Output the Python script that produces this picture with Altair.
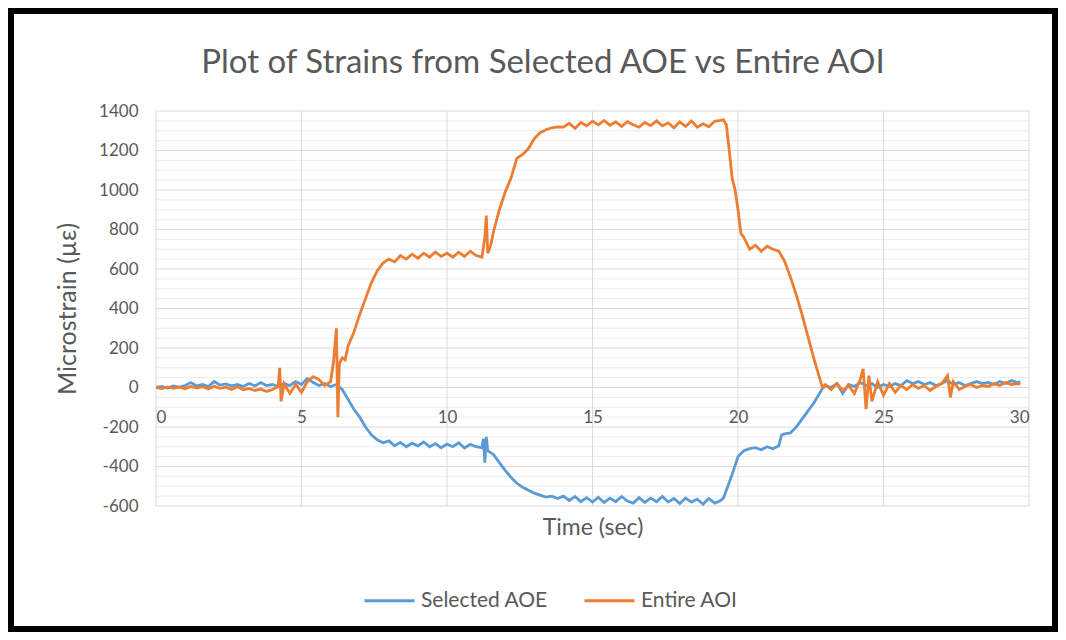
import altair as alt
import pandas as pd

# ---------------- data ----------------
aoe_t = [0.0, 0.2, 0.4, 0.6, 0.8, 1.0, 1.2, 1.4, 1.6, 1.8, 2.0, 2.2, 2.4, 2.6, 2.8, 3.0, 3.2, 3.4, 3.6, 3.8,
         4.0, 4.2, 4.4, 4.6, 4.8, 5.0, 5.2, 5.4, 5.6, 5.8, 6.0, 6.2, 6.4, 6.6, 6.8, 7.0, 7.2, 7.4, 7.6, 7.8,
         8.0, 8.2, 8.4, 8.6, 8.8, 9.0, 9.2, 9.4, 9.6, 9.8, 10.0, 10.2, 10.4, 10.6, 10.8, 11.0, 11.2, 11.25,
         11.3, 11.35, 11.4, 11.6, 11.8, 12.0, 12.2, 12.4, 12.6, 12.8, 13.0, 13.2, 13.4, 13.6, 13.8, 14.0,
         14.2, 14.4, 14.6, 14.8, 15.0, 15.2, 15.4, 15.6, 15.8, 16.0, 16.2, 16.4, 16.6, 16.8, 17.0, 17.2,
         17.4, 17.6, 17.8, 18.0, 18.2, 18.4, 18.6, 18.8, 19.0, 19.2, 19.4, 19.5, 19.6, 19.8, 20.0, 20.2,
         20.4, 20.6, 20.8, 21.0, 21.2, 21.4, 21.5, 21.6, 21.8, 22.0, 22.2, 22.4, 22.6, 22.8, 22.9, 23.0,
         23.2, 23.4, 23.6, 23.8, 24.0, 24.2, 24.4, 24.6, 24.8, 25.0, 25.2, 25.4, 25.6, 25.8, 26.0, 26.2,
         26.4, 26.6, 26.8, 27.0, 27.2, 27.4, 27.6, 27.8, 28.0, 28.2, 28.4, 28.6, 28.8, 29.0, 29.2, 29.4,
         29.6, 29.7]
aoe_v = [0, 5, -3, 8, 2, 10, 25, 8, 15, 5, 30, 12, 18, 8, 15, 5, 20, 8, 25, 10,
         15, 5, 20, 10, 30, 15, 45, 25, 10, 20, 5, 15, -10, -60, -110, -150, -200, -240, -265, -280,
         -270, -295, -278, -300, -282, -296, -276, -300, -284, -305, -286, -300, -280, -306, -288, -300, -305, -260,
         -380, -250, -320, -340, -380, -420, -455, -485, -505, -520, -535, -545, -555, -550, -562, -550,
         -572, -552, -578, -558, -580, -556, -582, -560, -578, -552, -575, -585, -558, -582, -560, -578,
         -552, -580, -562, -588, -560, -580, -565, -590, -562, -585, -572, -560, -520, -440, -350, -320,
         -310, -305, -315, -300, -310, -295, -240, -235, -230, -200, -160, -120, -80, -30, -5, 10,
         0, 20, -30, 15, 5, 25, 10, 20, 0, 15, 5, 20, 10, 35, 20, 30,
         15, 25, 10, 20, 35, 15, 25, 10, 20, 30, 20, 25, 15, 30, 20, 35,
         25, 30]

aoi_t = [0.0, 0.2, 0.4, 0.6, 0.8, 1.0, 1.2, 1.4, 1.6, 1.8, 2.0, 2.2, 2.4, 2.6, 2.8, 3.0, 3.2, 3.4, 3.6, 3.8,
         4.0, 4.2, 4.25, 4.3, 4.4, 4.6, 4.8, 5.0, 5.2, 5.4, 5.6, 5.8, 6.0, 6.1, 6.2, 6.25, 6.3, 6.4, 6.5,
         6.6, 6.8, 7.0, 7.2, 7.4, 7.6, 7.8, 8.0, 8.2, 8.4, 8.6, 8.8, 9.0, 9.2, 9.4, 9.6, 9.8, 10.0, 10.2,
         10.4, 10.6, 10.8, 11.0, 11.2, 11.3, 11.35, 11.4, 11.5, 11.6, 11.8, 12.0, 12.2, 12.4, 12.6, 12.8,
         13.0, 13.2, 13.4, 13.6, 13.8, 14.0, 14.2, 14.4, 14.6, 14.8, 15.0, 15.2, 15.4, 15.6, 15.8, 16.0,
         16.2, 16.4, 16.6, 16.8, 17.0, 17.2, 17.4, 17.6, 17.8, 18.0, 18.2, 18.4, 18.6, 18.8, 19.0, 19.2,
         19.4, 19.5, 19.6, 19.7, 19.8, 19.9, 20.0, 20.1, 20.2, 20.4, 20.6, 20.8, 21.0, 21.2, 21.4, 21.6,
         21.8, 22.0, 22.2, 22.4, 22.6, 22.8, 22.9, 23.0, 23.2, 23.4, 23.6, 23.8, 24.0, 24.2, 24.3, 24.4,
         24.5, 24.6, 24.8, 25.0, 25.2, 25.4, 25.6, 25.8, 26.0, 26.2, 26.4, 26.6, 26.8, 27.0, 27.2, 27.3,
         27.4, 27.6, 27.8, 28.0, 28.2, 28.4, 28.6, 28.8, 29.0, 29.2, 29.4, 29.6, 29.7]
aoi_v = [0, -5, 3, -4, 2, -6, 5, -3, 4, -8, 6, -4, 2, -10, 4, -12, -5, -15, -8, -20,
         -10, 5, 100, -70, 20, -30, 15, -25, 30, 55, 40, 10, 30, 130, 300, -150, 120, 150, 140,
         210, 280, 370, 450, 530, 590, 630, 650, 636, 668, 650, 675, 655, 680, 660, 686, 664, 680, 660,
         685, 664, 690, 668, 660, 760, 870, 680, 720, 790, 900, 990, 1060, 1160, 1180, 1210,
         1260, 1290, 1305, 1315, 1320, 1318, 1338, 1312, 1342, 1325, 1348, 1330, 1352, 1328, 1345, 1322,
         1346, 1330, 1318, 1342, 1326, 1350, 1325, 1340, 1315, 1345, 1322, 1350, 1318, 1335, 1320, 1348,
         1352, 1355, 1330, 1200, 1060, 1000, 900, 780, 760, 700, 720, 690, 715, 700, 690, 640,
         560, 470, 370, 260, 150, 50, 0, 15, -10, 20, -15, 10, -30, 40, 95, -110,
         60, -70, 30, -40, 20, -25, 10, -10, 15, -5, 10, -15, 5, 20, 60, -50,
         30, -10, 5, 15, 0, 10, 5, 20, 10, 25, 15, 20, 15]

series_names = ["Selected AOE", "Entire AOI"]
series_colors = ["#5B9BD5", "#ED7D31"]

x_ticks = [0, 5, 10, 15, 20, 25, 30]
y_major = [-600, -400, -200, 0, 200, 400, 600, 800, 1000, 1200, 1400]
y_minor = [-550, -500, -450, -350, -300, -250, -150, -100, -50, 50, 100, 150, 250, 300, 350,
           450, 500, 550, 650, 700, 750, 850, 900, 950, 1050, 1100, 1150, 1250, 1300, 1350]

title_text = "Plot of Strains from Selected AOE vs Entire AOI"
x_title = "Time (sec)"
y_title = "Microstrain (µε)"

# ---------------- build tables ----------------
df_aoe = pd.DataFrame({"t": aoe_t, "v": aoe_v, "series": series_names[0]})
df_aoi = pd.DataFrame({"t": aoi_t, "v": aoi_v, "series": series_names[1]})
df_xt = pd.DataFrame({"t": x_ticks})
df_ymaj = pd.DataFrame({"v": y_major})
df_ymin = pd.DataFrame({"v": y_minor})

W, H = 873, 395
PL, PT, PR, PB = 148, 103, 29, 126
GRAY = "#595959"
FONT = "Lato"

xscale = alt.Scale(domain=[0, 30], nice=False, zero=False)
yscale = alt.Scale(domain=[-600, 1400], nice=False)
cscale = alt.Scale(domain=series_names, range=series_colors)

x_axis = alt.Axis(values=x_ticks, grid=False, domain=False, ticks=False, offset=-(H - 276.5),
                  labelPadding=22, labelFontSize=17, labelColor=GRAY, labelFont=FONT,
                  labelOverlap=False, labelExpr="'' + datum.value",
                  title=x_title, titleFontSize=23, titleColor=GRAY, titleFont=FONT,
                  titleFontWeight="normal", titleY=140, titleBaseline="middle", zindex=1)
y_axis = alt.Axis(values=y_major, grid=False, domain=False, ticks=False, labelPadding=18,
                  labelFontSize=17, labelColor=GRAY, labelFont=FONT,
                  labelOverlap=False, labelExpr="'' + datum.value",
                  title=y_title, titleFontSize=25, titleColor=GRAY, titleFont=FONT,
                  titleFontWeight="normal", titleX=-89, titleY=H / 2, titleAngle=270,
                  titleBaseline="middle", titleAlign="center", zindex=1)

# white card inside the black frame
card = alt.Chart(alt.Data(values=[{"k": 1}])).mark_rect(color="white").encode(
    x=alt.value(-PL + 6), x2=alt.value(W + PR - 6),
    y=alt.value(-PT + 6), y2=alt.value(H + PB - 6),
)

# chart title as a text mark (centered on the whole card)
title = alt.Chart(alt.Data(values=[{"txt": title_text}])).mark_text(
    font=FONT, fontSize=33, color=GRAY, align="center", baseline="alphabetic"
).encode(text="txt:N", x=alt.value(387), y=alt.value(-38))

minor = alt.Chart(df_ymin).mark_rule(color="#EBEBEB", strokeWidth=1).encode(
    y=alt.Y("v:Q", scale=yscale, axis=y_axis))
major = alt.Chart(df_ymaj).mark_rule(color="#D9D9D9", strokeWidth=1).encode(
    y=alt.Y("v:Q", scale=yscale, axis=y_axis))
vgrid = alt.Chart(df_xt).mark_rule(color="#D9D9D9", strokeWidth=1).encode(
    x=alt.X("t:Q", scale=xscale, axis=x_axis))

legend = alt.Legend(title=None, orient="none", legendX=207, legendY=463, direction="horizontal",
                    symbolType="stroke", symbolSize=2500, symbolStrokeWidth=3,
                    labelFontSize=21, labelColor=GRAY, labelFont=FONT, labelOffset=5,
                    columnPadding=30)

line_aoe = alt.Chart(df_aoe).mark_line(strokeWidth=2.8, clip=True).encode(
    x=alt.X("t:Q", scale=xscale, axis=x_axis),
    y=alt.Y("v:Q", scale=yscale, axis=y_axis),
    color=alt.Color("series:N", scale=cscale, legend=legend),
)
line_aoi = alt.Chart(df_aoi).mark_line(strokeWidth=2.8, clip=True).encode(
    x=alt.X("t:Q", scale=xscale, axis=x_axis),
    y=alt.Y("v:Q", scale=yscale, axis=y_axis),
    color=alt.Color("series:N", scale=cscale, legend=legend),
)

chart = alt.layer(card, title, minor, major, vgrid, line_aoe, line_aoi).properties(
    width=W, height=H,
    autosize=alt.AutoSizeParams(type="none"),
    padding={"left": PL, "top": PT, "right": PR, "bottom": PB},
    background="black",
).configure_view(stroke=None)

chart.save("out.html", embed_options={"renderer": "svg", "actions": False})
